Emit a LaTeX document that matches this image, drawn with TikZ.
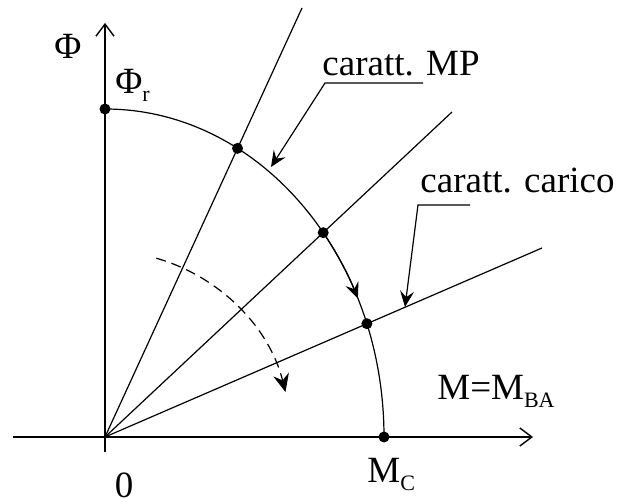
\documentclass[tikz,border=0pt]{standalone}
\usepackage{fontspec}
\setmainfont{Liberation Serif}
\usepackage{tikz}
\usetikzlibrary{arrows.meta,intersections}
\newcommand{\lowsub}[1]{\raisebox{-4pt}{\fontsize{11}{11}\selectfont #1}}

\begin{document}
\begin{tikzpicture}[x=0.5pt,y=0.5pt,
every node/.style={font=\fontsize{18.5}{22}\selectfont,inner sep=0pt},
axis/.style={line width=0.7pt,-{Straight Barb[length=6pt,width=9pt,line width=0.7pt]}},
char/.style={line width=0.6pt},
lead/.style={line width=0.6pt,-{Stealth[length=8pt,width=7pt,inset=3pt]}},
dot/.style={circle,fill,minimum size=5.5pt,inner sep=0pt}
]
\useasboundingbox (-105,-67) rectangle (517,437);
\coordinate (O) at (0,0);
\coordinate (Fr) at (0,328);
\coordinate (L1) at (197,429);
\coordinate (L2) at (347,325);
\coordinate (L3) at (437,189);
\draw[axis] (0,-15) -- (0,414);
\draw[axis] (-92,0) -- (428,0);
\draw[char,name path=phi] (Fr) arc[start angle=90,end angle=0,x radius=279,y radius=328];
\draw[char,name path=mp1] (O) -- (L1);
\draw[char,name path=mp2] (O) -- (L2);
\draw[char,name path=car] (O) -- (L3);
\path[name intersections={of=phi and mp1,by=P1}];
\path[name intersections={of=phi and mp2,by=P2}];
\path[name intersections={of=phi and car,by=P3}];
\node[dot] (d0) at (Fr) {};
\node[dot] (d1) at (P1) {};
\node[dot] (d2) at (P2) {};
\node[dot] (d3) at (P3) {};
\node[dot] (dc) at (279,0) {};
\draw[lead] (38.5:279 and 328) arc[start angle=38.5,end angle=25,x radius=279,y radius=328];
\draw[lead,dash pattern=on 5pt off 3pt,-{Stealth[length=9pt,width=8pt,inset=3pt]}] (74:186) arc[start angle=74,end angle=14,radius=186];
\node[anchor=base west] (mp) at (217,361) {caratt. MP};
\coordinate (mpk) at (220,354);
\coordinate (mpt) at (166,270);
\draw[lead] (mpk) ++(98,0) -- (mpk) -- (mpt);
\node[anchor=base west] (ca) at (315,244) {caratt. carico};
\coordinate (cak) at (313,232);
\coordinate (cat) at (300,130);
\draw[lead] (cak) ++(52,0) -- (cak) -- (cat);
\node[anchor=base] (phil) at (-37,378) {Φ};
\node[anchor=base west] (phir) at (10,343) {Φ\lowsub{r}};
\node[anchor=base west] (mba) at (332,37) {M=M\lowsub{BA}};
\node[anchor=base west] (mc) at (262,-46) {M\lowsub{C}};
\node[anchor=base] (zero) at (19,-61) {0};
\end{tikzpicture}
\end{document}
